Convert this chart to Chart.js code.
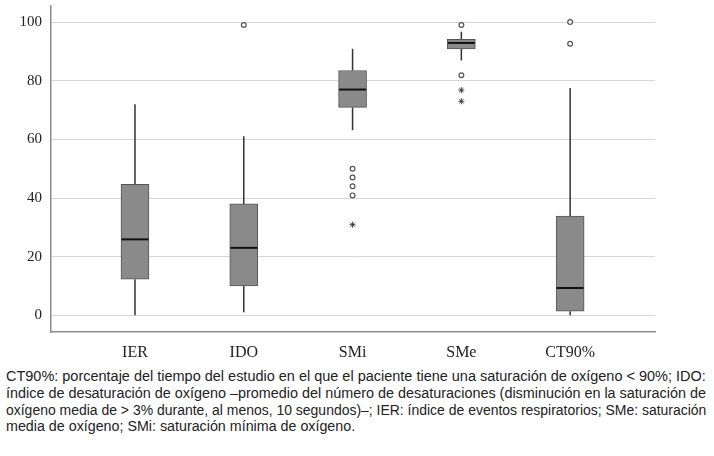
<!DOCTYPE html>
<html>
<head>
<meta charset="utf-8">
<script src="https://cdn.jsdelivr.net/npm/chart.js@4/dist/chart.umd.min.js"></script>
<style>
  body { margin: 0; background: #fff; }
  #wrap { position: relative; width: 714px; height: 360px; }
  #caption { position: absolute; left: 6px; top: 368px; }
  #caption div {
    height: 16.8px; line-height: 17px; white-space: nowrap;
    font-family: "Liberation Sans", Arial, sans-serif; font-size: 14px; color: #222;
  }
  #caption span { display: inline-block; transform-origin: 0 0; }
</style>
</head>
<body>
<div id="wrap"><canvas id="chart"></canvas></div>
<div id="caption">
  <div><span>CT90%: porcentaje del tiempo del estudio en el que el paciente tiene una saturación de oxígeno &lt; 90%; IDO:</span></div>
  <div><span>índice de desaturación de oxígeno –promedio del número de desaturaciones (disminución en la saturación de</span></div>
  <div><span>oxígeno media de &gt; 3% durante, al menos, 10 segundos)–; IER: índice de eventos respiratorios; SMe: saturación</span></div>
  <div><span>media de oxígeno; SMi: saturación mínima de oxígeno.</span></div>
</div>
<script>
// Box plot values
const categories = ['IER', 'IDO', 'SMi', 'SMe', 'CT90%'];
const whiskerLow = [0, 1.0, 63.1, 86.9, 0];
const q1 = [12.3, 10.0, 70.9, 90.9, 1.4];
const median = [25.9, 23.0, 77.0, 92.9, 9.3];
const q3 = [44.7, 38.0, 83.5, 94.1, 33.8];
const whiskerHigh = [72.0, 61.1, 90.9, 96.7, 77.5];
// outliers: [category index, value]
const outlierCircles = [[1, 99.0], [2, 50.0], [2, 47.0], [2, 44.0], [2, 40.9], [3, 99.0], [3, 81.9], [4, 100], [4, 92.6]];
const outlierStars = [[2, 30.9], [3, 76.8], [3, 73.0]];
const yTicks = [0, 20, 40, 60, 80, 100];

const boxLines = {
    id: 'boxLines',
    beforeDatasetsDraw(chart) {
        const ctx = chart.ctx, xs = chart.scales.x, ys = chart.scales.y;
        ctx.save();
        ctx.strokeStyle = '#333';
        ctx.lineWidth = 1.5;
        categories.forEach((c, i) => {
            const x = xs.getPixelForValue(i + 1);
            ctx.beginPath();
            ctx.moveTo(x, ys.getPixelForValue(whiskerLow[i]));
            ctx.lineTo(x, ys.getPixelForValue(q1[i]));
            ctx.moveTo(x, ys.getPixelForValue(q3[i]));
            ctx.lineTo(x, ys.getPixelForValue(whiskerHigh[i]));
            ctx.stroke();
        });
        ctx.restore();
    },
    afterDatasetsDraw(chart) {
        const ctx = chart.ctx, xs = chart.scales.x, ys = chart.scales.y;
        ctx.save();
        ctx.strokeStyle = '#111';
        ctx.lineWidth = 2;
        categories.forEach((c, i) => {
            const x = xs.getPixelForValue(i + 1);
            const y = ys.getPixelForValue(median[i]);
            ctx.beginPath();
            ctx.moveTo(x - 13.5, y);
            ctx.lineTo(x + 13.5, y);
            ctx.stroke();
        });
        ctx.restore();
    }
};

const ctx = document.getElementById('chart').getContext('2d');
new Chart(ctx, {
    type: 'bar',
    data: {
        datasets: [{
            type: 'bar',
            data: categories.map((c, i) => ({x: i + 1, y: [q1[i], q3[i]]})),
            backgroundColor: '#8a8a8a',
            borderColor: '#555',
            borderWidth: 1,
            borderSkipped: false,
            barThickness: 28,
            order: 2
        }, {
            type: 'scatter',
            data: outlierCircles.map(p => ({x: p[0] + 1, y: p[1]})),
            pointStyle: 'circle',
            pointRadius: 2.4,
            pointBackgroundColor: '#fff',
            pointBorderColor: '#555',
            pointBorderWidth: 1.2,
            order: 1
        }, {
            type: 'scatter',
            data: outlierStars.map(p => ({x: p[0] + 1, y: p[1]})),
            pointStyle: 'star',
            pointRadius: 3,
            pointBorderColor: '#333',
            pointBorderWidth: 0.9,
            order: 1
        }]
    },
    options: {
        responsive: true,
        maintainAspectRatio: false,
        animation: false,
        devicePixelRatio: 1,
        layout: { padding: { top: 6, right: 59, left: 0, bottom: 0 } },
        plugins: { legend: { display: false }, tooltip: { enabled: false } },
        scales: {
            x: {
                type: 'linear',
                offset: false,
                min: 0.228,
                max: 5.78,
                grid: { display: false },
                border: { display: true, color: '#8c8c8c', width: 1.5 },
                afterBuildTicks: axis => { axis.ticks = categories.map((c, i) => ({value: i + 1})); },
                afterFit: axis => { axis.height = 28; axis.paddingLeft = 0; axis.paddingRight = 0; },
                ticks: {
                    autoSkip: false,
                    maxRotation: 0,
                    padding: 3,
                    color: '#222',
                    font: { family: 'Liberation Serif', size: 16 },
                    callback: v => categories[v - 1]
                }
            },
            y: {
                min: -5.7,
                max: 105.5,
                grid: { color: '#d6d6d6', lineWidth: 1, drawTicks: false },
                border: { display: true, color: '#8c8c8c', width: 1.5 },
                afterBuildTicks: axis => { axis.ticks = yTicks.map(v => ({value: v})); },
                afterFit: axis => { axis.width = 51; axis.paddingTop = 0; axis.paddingBottom = 0; },
                ticks: {
                    padding: 9,
                    color: '#222',
                    font: { family: 'Liberation Serif', size: 15 }
                }
            }
        }
    },
    plugins: [boxLines]
});

// fit the caption lines to the justified width of the figure note
const lines = document.querySelectorAll('#caption span');
let sum = 0;
lines.forEach((s, i) => {
    if (i < 3) {
        const k = 700 / s.offsetWidth;
        s.style.transform = `scaleX(${k})`;
        sum += k;
    }
});
lines[3].style.transform = `scaleX(${sum / 3})`;
</script>
</body>
</html>
